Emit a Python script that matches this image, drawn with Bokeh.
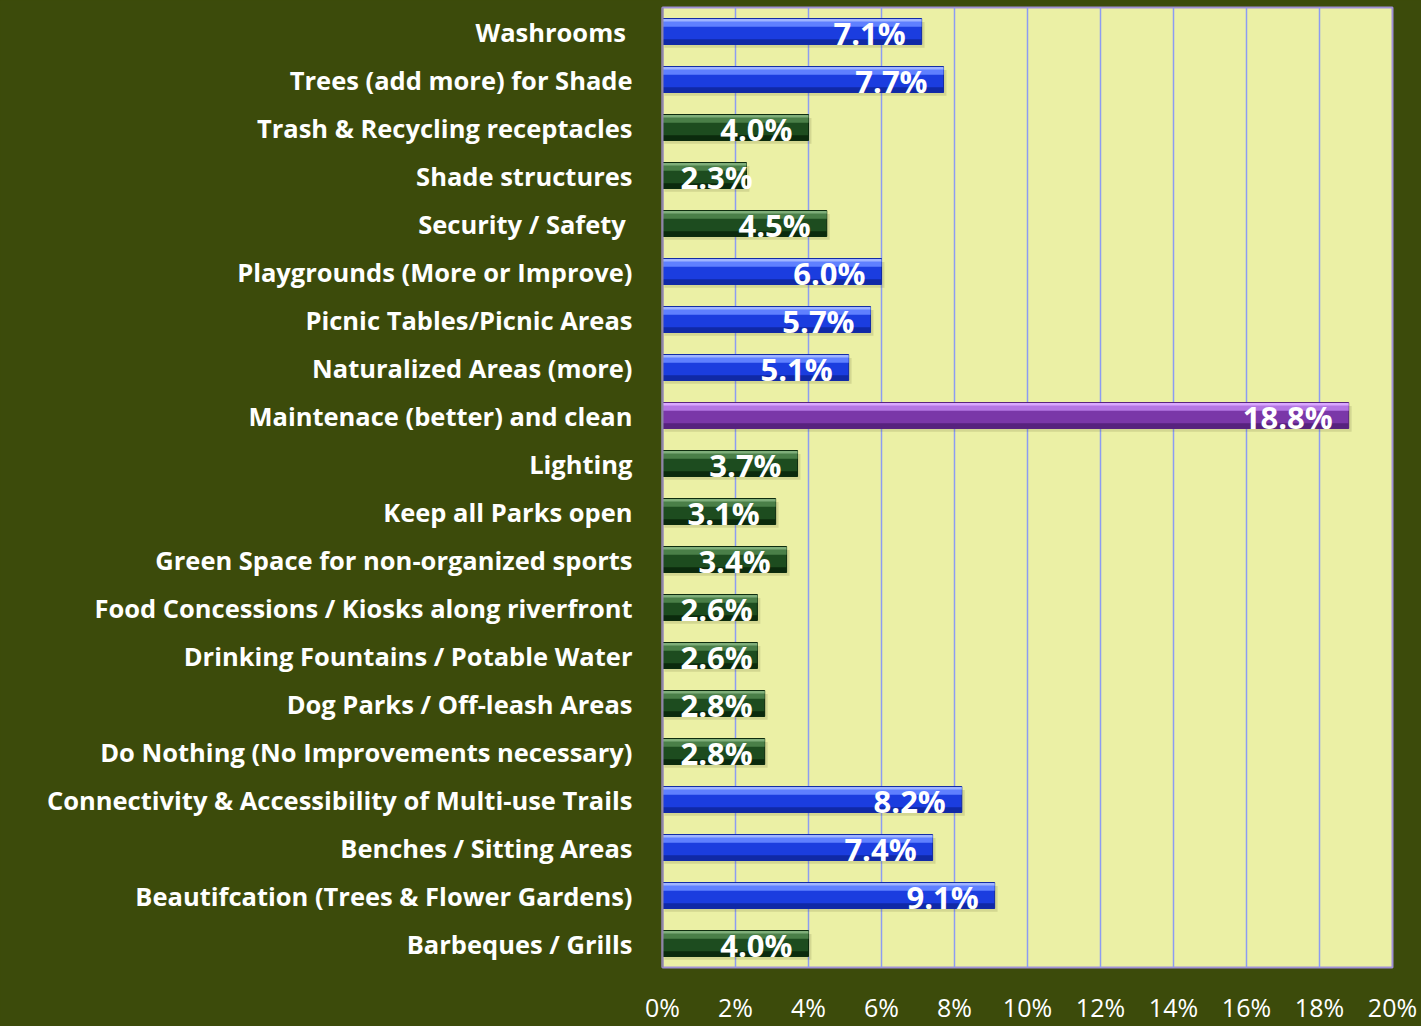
from bokeh.plotting import figure
from bokeh.models import FactorRange, FixedTicker, ColumnDataSource
from bokeh.transform import dodge
from bokeh.core.properties import value
from bokeh.embed import file_html
from bokeh.resources import INLINE

categories = [
    "Washrooms ", "Trees (add more) for Shade", "Trash & Recycling receptacles",
    "Shade structures", "Security / Safety ", "Playgrounds (More or Improve)",
    "Picnic Tables/Picnic Areas", "Naturalized Areas (more)",
    "Maintenace (better) and clean", "Lighting", "Keep all Parks open",
    "Green Space for non-organized sports", "Food Concessions / Kiosks along riverfront",
    "Drinking Fountains / Potable Water", "Dog Parks / Off-leash Areas",
    "Do Nothing (No Improvements necessary)", "Connectivity & Accessibility of Multi-use Trails",
    "Benches / Sitting Areas", "Beautifcation (Trees & Flower Gardens)", "Barbeques / Grills",
]
values = [7.1, 7.7, 4.0, 2.3, 4.5, 6.0, 5.7, 5.1, 18.8, 3.7, 3.1, 3.4, 2.6, 2.6, 2.8, 2.8, 8.2, 7.4, 9.1, 4.0]
x_ticks = [0, 2, 4, 6, 8, 10, 12, 14, 16, 18, 20]
x_tick_labels = ["0%", "2%", "4%", "6%", "8%", "10%", "12%", "14%", "16%", "18%", "20%"]

BG = "#3c4b0b"
PLOT_BG = "#ebf0a5"
FONT = "Open Sans"

palettes = {
    "blue": ("#1b3ddf", "#5f80ff", "#1029a6", "#9fb4ff"),
    "green": ("#1d4c1f", "#4a7f48", "#0b2a0d", "#7fae7a"),
    "purple": ("#7a37a8", "#b476e3", "#57227e", "#d9a8ff"),
}
vmax = max(values)
kinds = []
for v in values:
    if v == vmax:
        kinds.append("purple")
    elif v >= 5:
        kinds.append("blue")
    else:
        kinds.append("green")

src = ColumnDataSource(dict(
    cat=categories,
    val=values,
    main=[palettes[k][0] for k in kinds],
    hi=[palettes[k][1] for k in kinds],
    lo=[palettes[k][2] for k in kinds],
    top=[palettes[k][3] for k in kinds],
    shadow_r=[v + 0.08 for v in values],
))

p = figure(
    width=1421, height=1026,
    y_range=FactorRange(factors=categories[::-1]),
    x_range=(0, 20),
    output_backend="svg", toolbar_location=None,
    min_border_left=662, min_border_right=29, min_border_top=7, min_border_bottom=56,
)
p.background_fill_color = PLOT_BG
p.border_fill_color = BG
p.outline_line_color = "#a08fd6"
p.outline_line_width = 2

# soft shadow
p.hbar(y=dodge("cat", -0.07, range=p.y_range), left=0.05, right="shadow_r", height=0.54,
       source=src, fill_color="#4a4a20", fill_alpha=0.15, line_color=None)
# main bar
p.hbar(y="cat", left=0, right="val", height=0.54, source=src,
       fill_color="main", line_color="lo", line_width=1)
# lower dark band
p.hbar(y=dodge("cat", -0.215, range=p.y_range), left=0, right="val", height=0.11, source=src,
       fill_color="lo", line_color=None)
# upper highlight
p.hbar(y=dodge("cat", 0.165, range=p.y_range), left=0, right="val", height=0.13, source=src,
       fill_color="hi", line_color=None)
p.hbar(y=dodge("cat", 0.235, range=p.y_range), left=0, right="val", height=0.05, source=src,
       fill_color="top", line_color=None)

big = ColumnDataSource(dict(
    cat=[c for c, v in zip(categories, values) if v >= 3.0],
    val=[v for v in values if v >= 3.0],
    lbl=["%.1f%%" % v for v in values if v >= 3.0],
))
small = ColumnDataSource(dict(
    cat=[c for c, v in zip(categories, values) if v < 3.0],
    val=[0 for v in values if v < 3.0],
    lbl=["%.1f%%" % v for v in values if v < 3.0],
))
p.text(x="val", y="cat", text="lbl", source=big, text_align="right", text_baseline="middle",
       x_offset=-16, y_offset=1, text_color="white", text_font=value(FONT),
       text_font_style="bold", text_font_size="31px")
p.text(x="val", y="cat", text="lbl", source=small, text_align="left", text_baseline="middle",
       x_offset=18, y_offset=1, text_color="white", text_font=value(FONT),
       text_font_style="bold", text_font_size="31px")

p.xgrid.grid_line_color = "#8c9cf2"
p.xgrid.grid_line_width = 1.5
p.ygrid.grid_line_color = None
p.xaxis.ticker = FixedTicker(ticks=x_ticks)
p.xaxis.major_label_overrides = {t: l for t, l in zip(x_ticks, x_tick_labels)}
p.xaxis.axis_line_color = None
p.xaxis.major_tick_line_color = None
p.xaxis.minor_tick_line_color = None
p.xaxis.major_tick_out = 0
p.xaxis.major_label_standoff = 22
p.xaxis.major_label_text_color = "white"
p.xaxis.major_label_text_font = FONT
p.xaxis.major_label_text_font_size = "25px"

p.yaxis.axis_line_color = "#8f86a8"
p.yaxis.axis_line_width = 2
p.yaxis.major_tick_line_color = None
p.yaxis.major_tick_out = 0
p.yaxis.major_label_standoff = 30
p.yaxis.major_label_text_color = "white"
p.yaxis.major_label_text_font = FONT
p.yaxis.major_label_text_font_style = "bold"
p.yaxis.major_label_text_font_size = "25.5px"

html = file_html(p, INLINE)
html = html.replace("<head>", "<head><style>html,body{background:%s;}</style>" % BG, 1)
open("out.html", "w").write(html)
